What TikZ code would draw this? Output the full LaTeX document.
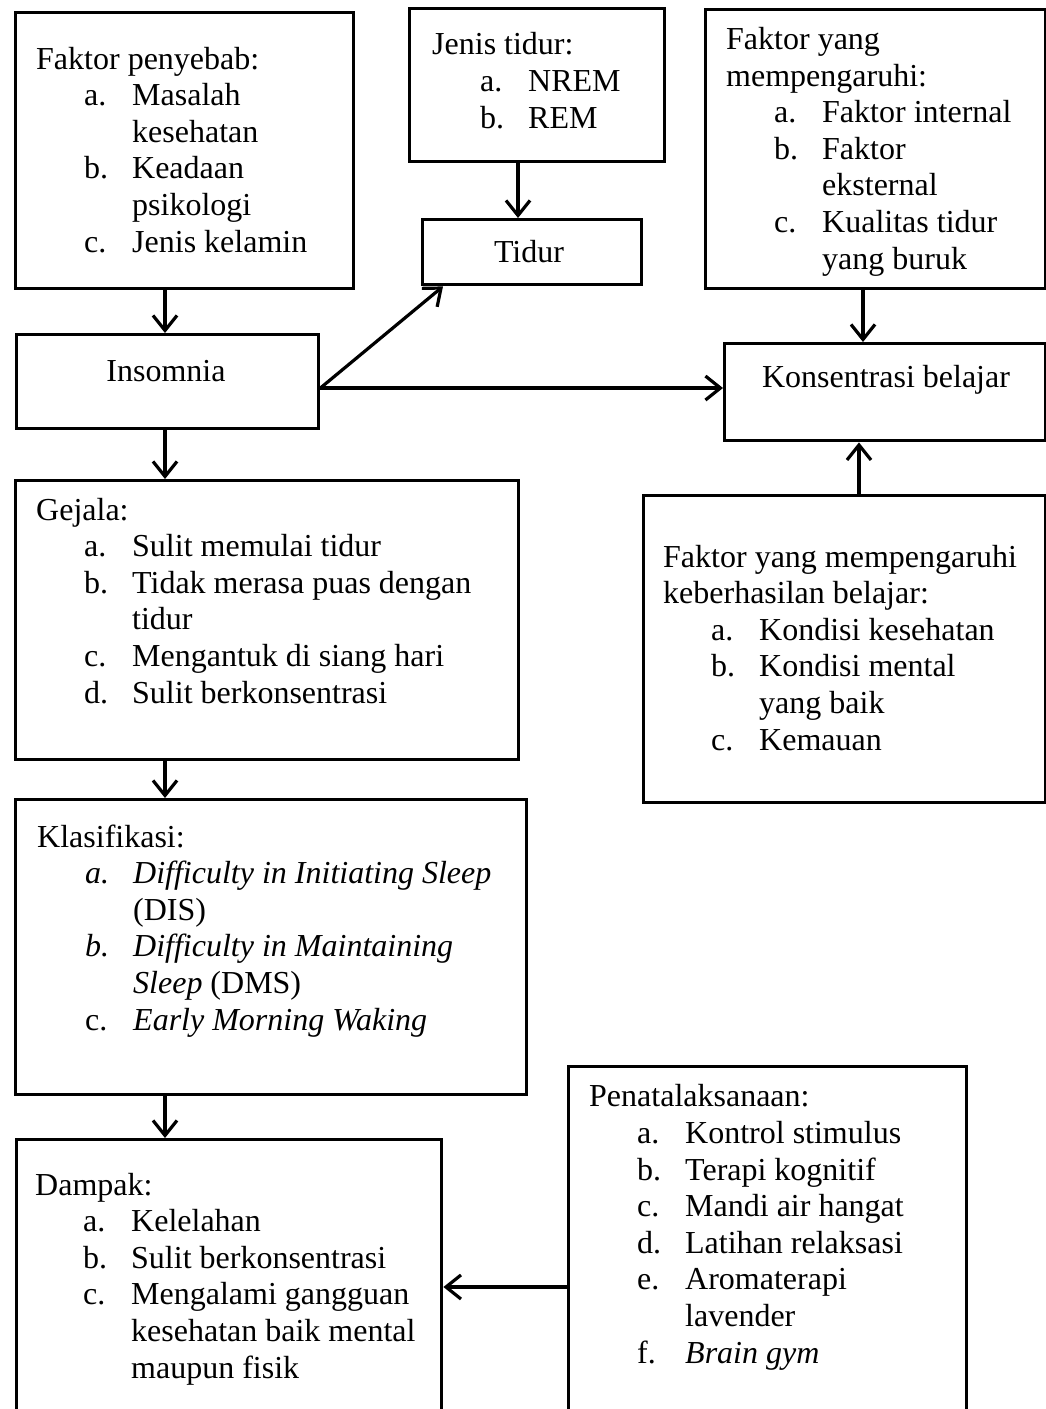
\documentclass[tikz,border=0pt]{standalone}
\usepackage{fontspec}
\setmainfont{Liberation Serif}
\usetikzlibrary{arrows.meta}
\newcommand{\itm}[2]{\hspace*{48pt}\makebox[48pt][l]{#1}#2}
\newcommand{\cnt}[1]{\hspace*{96pt}#1}
\begin{document}
\begin{tikzpicture}[x=1pt,y=-1pt,
  box/.style={draw, line width=3.4pt, rectangle, inner sep=0pt, anchor=north west},
  txt/.style={anchor=base west, align=left, inner sep=0pt, font=\fontsize{32}{36.6}\selectfont},
  lbl/.style={anchor=base, inner sep=0pt, font=\fontsize{32}{36.6}\selectfont},
  arr/.style={line width=3.2pt, -{Straight Barb[length=15pt,width=24pt]}}]
\useasboundingbox (0,0) rectangle (1046,1409);
\clip (0,0) rectangle (1046,1409);
\fill[white] (0,0) rectangle (1046,1409);

% boxes
\node[box, minimum width=338pt, minimum height=276pt] (penyebab) at (14,11) {};
\node[box, minimum width=255pt, minimum height=153pt] (jenis) at (408,7) {};
\node[box, minimum width=219pt, minimum height=65pt] (tidur) at (421,218) {};
\node[box, minimum width=340pt, minimum height=279pt] (faktor) at (704,8) {};
\node[box, minimum width=302pt, minimum height=94pt] (insom) at (15,333) {};
\node[box, minimum width=321pt, minimum height=97pt] (konsen) at (723,342) {};
\node[box, minimum width=503pt, minimum height=279pt] (gejala) at (14,479) {};
\node[box, minimum width=402pt, minimum height=307pt] (keber) at (642,494) {};
\node[box, minimum width=511pt, minimum height=295pt] (klas) at (14,798) {};
\node[box, minimum width=425pt, minimum height=300pt] (dampak) at (15,1138) {};
\node[box, minimum width=398pt, minimum height=380pt] (penata) at (567,1065) {};

% texts (anchored at the baseline of their last line)
\node[txt] (tpenyebab) at (36,252) {Faktor penyebab:\\
\itm{a.}{Masalah}\\
\cnt{kesehatan}\\
\itm{b.}{Keadaan}\\
\cnt{psikologi}\\
\itm{c.}{Jenis kelamin}};

\node[txt] (tjenis) at (432,128) {Jenis tidur:\\
\itm{a.}{NREM}\\
\itm{b.}{REM}};

\node[lbl] (ttidur) at (529,262) {Tidur};

\node[txt] (tfaktor) at (726,269) {Faktor yang\\
mempengaruhi:\\
\itm{a.}{Faktor internal}\\
\itm{b.}{Faktor}\\
\cnt{eksternal}\\
\itm{c.}{Kualitas tidur}\\
\cnt{yang buruk}};

\node[lbl] (tinsom) at (166,381) {Insomnia};
\node[lbl] (tkonsen) at (886,387) {Konsentrasi belajar};

\node[txt] (tgejala) at (36,703) {Gejala:\\
\itm{a.}{Sulit memulai tidur}\\
\itm{b.}{Tidak merasa puas dengan}\\
\cnt{tidur}\\
\itm{c.}{Mengantuk di siang hari}\\
\itm{d.}{Sulit berkonsentrasi}};

\node[txt] (tkeber) at (663,750) {Faktor yang mempengaruhi\\
keberhasilan belajar:\\
\itm{a.}{Kondisi kesehatan}\\
\itm{b.}{Kondisi mental}\\
\cnt{yang baik}\\
\itm{c.}{Kemauan}};

\node[txt] (tklas) at (37,1030) {Klasifikasi:\\
\itm{\textit{a.}}{\textit{Difficulty in Initiating Sleep}}\\
\cnt{(DIS)}\\
\itm{\textit{b.}}{\textit{Difficulty in Maintaining}}\\
\cnt{\textit{Sleep} (DMS)}\\
\itm{c.}{\textit{Early Morning Waking}}};

\node[txt] (tdampak) at (35,1378) {Dampak:\\
\itm{a.}{Kelelahan}\\
\itm{b.}{Sulit berkonsentrasi}\\
\itm{c.}{Mengalami gangguan}\\
\cnt{kesehatan baik mental}\\
\cnt{maupun fisik}};

\node[txt] (tpenata) at (589,1363) {Penatalaksanaan:\\
\itm{a.}{Kontrol stimulus}\\
\itm{b.}{Terapi kognitif}\\
\itm{c.}{Mandi air hangat}\\
\itm{d.}{Latihan relaksasi}\\
\itm{e.}{Aromaterapi}\\
\cnt{lavender}\\
\itm{f.}{\textit{Brain gym}}};

% helper coordinates
\coordinate (colx) at (165,0);
\coordinate (jx) at (518,0);
\coordinate (tx) at (443,0);
\coordinate (ay) at (0,388);
\coordinate (fx) at (863,0);
\coordinate (kx) at (859,0);
\coordinate (py) at (0,1287);

% connectors
\draw[arr] (penyebab.south -| colx) -- (insom.north -| colx);
\draw[arr] (jenis.south -| jx) -- (tidur.north -| jx);
\draw[arr] (insom.east |- ay) -- (tidur.south -| tx);
\draw[arr] (insom.east |- ay) -- (konsen.west |- ay);
\draw[arr] (faktor.south -| fx) -- (konsen.north -| fx);
\draw[arr] (keber.north -| kx) -- (konsen.south -| kx);
\draw[arr] (insom.south -| colx) -- (gejala.north -| colx);
\draw[arr] (gejala.south -| colx) -- (klas.north -| colx);
\draw[arr] (klas.south -| colx) -- (dampak.north -| colx);
\draw[arr] (penata.west |- py) -- (dampak.east |- py);
\end{tikzpicture}
\end{document}
